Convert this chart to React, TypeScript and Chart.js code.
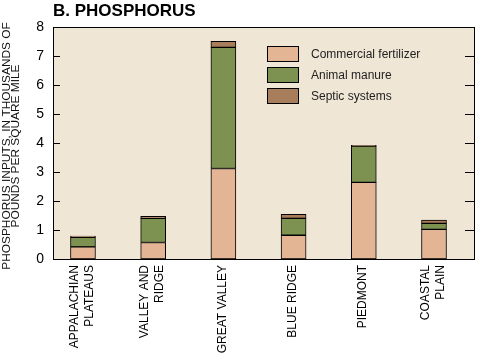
import React, { useEffect, useRef } from "react";
import { Chart, registerables } from "chart.js";

Chart.register(...registerables);

const categories: string[][] = [
  ["APPALACHIAN", "PLATEAUS"],
  ["VALLEY AND", "RIDGE"],
  ["GREAT VALLEY"],
  ["BLUE RIDGE"],
  ["PIEDMONT"],
  ["COASTAL", "PLAIN"],
];
const fertilizer = [0.42, 0.57, 3.12, 0.82, 2.64, 1.02];
const manure = [0.33, 0.83, 4.18, 0.58, 1.25, 0.21];
const septic = [0.04, 0.07, 0.21, 0.14, 0.03, 0.11];
const yTicks = [0, 1, 2, 3, 4, 5, 6, 7, 8];
const seriesNames = ["Commercial fertilizer", "Animal manure", "Septic systems"];
const seriesColors = ["#E3B594", "#7D9150", "#A87D5B"];
const titleText = "B. PHOSPHORUS";
const yTitleLines = ["PHOSPHORUS INPUTS, IN THOUSANDS OF", "POUNDS PER SQUARE MILE"];

const FONT = "'Liberation Sans', Arial, Helvetica, sans-serif";

export default function App() {
  const ref = useRef<HTMLCanvasElement | null>(null);

  useEffect(() => {
    if (!ref.current) return;
    const toPts = (arr: number[]) => arr.map((v, i) => ({ x: i, y: v }));
    const seriesData = [fertilizer, manure, septic];

    const decor = {
      id: "decor",
      beforeDraw(chart: any) {
        const { ctx, chartArea: a } = chart;
        ctx.save();
        ctx.fillStyle = "#F0E6D6";
        ctx.fillRect(a.left, a.top, a.right - a.left, a.bottom - a.top);
        ctx.restore();
      },
      afterDatasetsDraw(chart: any) {
        const { ctx, chartArea: a } = chart;
        const ys = chart.scales.y;
        const xs = chart.scales.x;
        ctx.save();
        ctx.strokeStyle = "#000";
        ctx.lineWidth = 1;
        ctx.strokeRect(a.left + 0.5, a.top + 0.5, a.right - a.left - 1, a.bottom - a.top);
        ctx.beginPath();
        yTicks.forEach((v) => {
          if (v === yTicks[0] || v === yTicks[yTicks.length - 1]) return;
          const py = Math.round(ys.getPixelForValue(v)) + 0.5;
          ctx.moveTo(a.left, py);
          ctx.lineTo(a.left + 7, py);
          ctx.moveTo(a.right, py);
          ctx.lineTo(a.right - 10, py);
        });
        ctx.stroke();

        // x category labels (rotated)
        ctx.font = `12px ${FONT}`;
        ctx.fillStyle = "#000";
        categories.forEach((lines, i) => {
          const cx = xs.getPixelForValue(i) - 1;
          const lh = 14.5;
          lines.forEach((line, j) => {
            const off = (j - (lines.length - 1) / 2) * lh;
            ctx.save();
            ctx.translate(cx + off, a.bottom + 6);
            ctx.rotate(-Math.PI / 2);
            ctx.textAlign = "right";
            ctx.textBaseline = "middle";
            ctx.fillText(line, 0, 0);
            ctx.restore();
          });
        });

        // legend
        ctx.font = `12px ${FONT}`;
        ctx.textBaseline = "middle";
        ctx.textAlign = "left";
        seriesNames.forEach((name, i) => {
          const by = 46 + i * 21;
          ctx.fillStyle = seriesColors[i];
          ctx.fillRect(267, by, 32, 16);
          ctx.strokeStyle = "#000";
          ctx.strokeRect(267.5, by + 0.5, 31, 15);
          ctx.fillStyle = "#222";
          ctx.fillText(name, 311, by + 8.5);
        });

        // title
        ctx.font = `bold 17px ${FONT}`;
        ctx.fillStyle = "#000";
        ctx.textBaseline = "alphabetic";
        ctx.fillText(titleText, 53, 16);

        // y title
        ctx.translate(0, 146);
        ctx.rotate(-Math.PI / 2);
        ctx.scale(1.08, 1);
        ctx.font = `11px ${FONT}`;
        ctx.textAlign = "center";
        ctx.textBaseline = "middle";
        ctx.fillStyle = "#111";
        ctx.fillText(yTitleLines[0], 0, 6.5);
        ctx.fillText(yTitleLines[1], 0, 15.5);
        ctx.restore();
      },
    };

    const chart = new Chart(ref.current, {
      type: "bar",
      data: {
        datasets: seriesData.map((d, i) => ({
          label: seriesNames[i],
          data: toPts(d),
          backgroundColor: seriesColors[i],
          borderColor: "#000",
          borderWidth: 1,
          borderSkipped: false,
          barThickness: 25,
        })),
      } as any,
      options: {
        animation: false,
        responsive: false,
        maintainAspectRatio: false,
        layout: { padding: { top: 27, right: 8, left: 0, bottom: 0 } },
        plugins: {
          legend: { display: false },
          title: { display: false },
          tooltip: { enabled: false },
        },
        scales: {
          x: {
            type: "linear",
            stacked: true,
            offset: false,
            bounds: "data",
            min: -0.427,
            max: 5.584,
            grid: { display: false, drawTicks: false, offset: false },
            border: { display: false },
            afterBuildTicks: (s: any) => {
              s.ticks = categories.map((_, i) => ({ value: i }));
            },
            afterFit: (s: any) => {
              s.height = 96;
            },
            ticks: { display: false },
          },
          y: {
            stacked: true,
            min: 0,
            max: 8,
            grid: { display: false, drawTicks: false },
            border: { display: false },
            afterFit: (s: any) => {
              s.width = 53;
            },
            ticks: {
              stepSize: 1,
              padding: 9,
              color: "#000",
              font: { family: FONT, size: 14 },
            },
          },
        },
      } as any,
      plugins: [decor],
    });
    return () => chart.destroy();
  }, []);

  return (
    <div style={{ position: "fixed", left: 0, top: 0, width: 483, height: 355, background: "#fff" }}>
      <canvas ref={ref} width={483} height={355} style={{ width: 483, height: 355, display: "block" }} />
    </div>
  );
}
